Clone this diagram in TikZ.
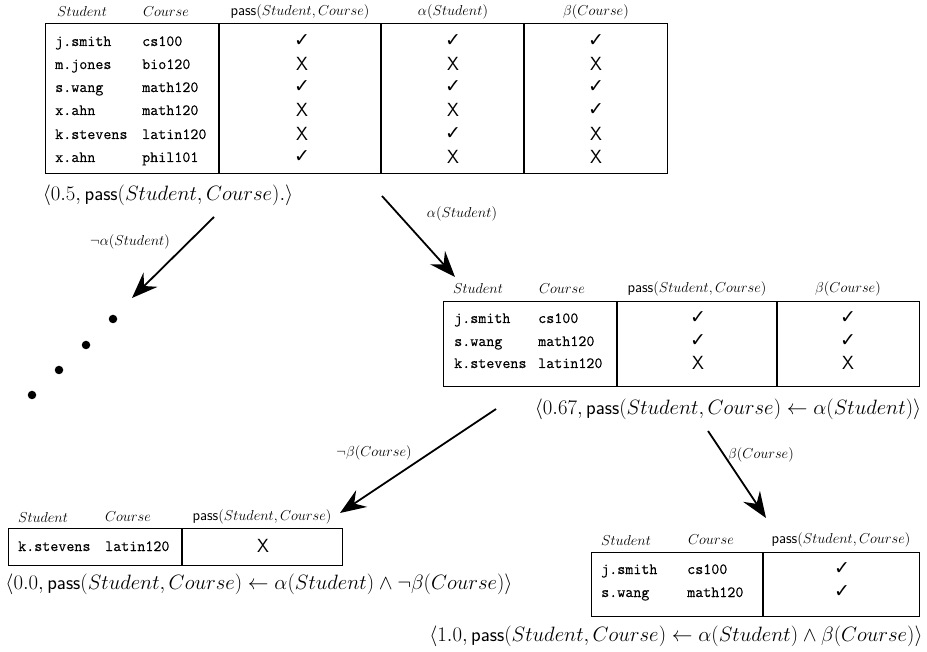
\documentclass[tikz,border=0pt]{standalone}
\usepackage{fontspec}
\setmonofont{Latin Modern Mono}[FakeBold=0.3]
\newfontfamily\symbolfont{DejaVu Sans}
\usetikzlibrary{arrows.meta}
\newcommand\yesmark{{\fontsize{19}{22}\symbolfont ✓}}
\newcommand\nomark{{\fontsize{19}{22}\sffamily X}}
\newcommand\passsc{\mathsf{pass}(Student,Course)}

\begin{document}
\begin{tikzpicture}[x=1pt,y=-1pt,
  tbl/.style={draw, line width=1.2pt, inner sep=0, anchor=north west},
  hdr/.style={font=\fontsize{15}{18}\selectfont, inner sep=0},
  cell/.style={font=\fontsize{15.6}{18}\ttfamily\selectfont, anchor=base west, inner sep=0},
  mk/.style={inner sep=0},
  lbl/.style={font=\fontsize{20}{24}\selectfont, inner sep=0},
  elbl/.style={font=\fontsize{14.5}{17}\selectfont, inner sep=0},
  arr/.style={line width=1.8pt, -{Stealth[length=26pt,width=20pt,inset=9pt]}},
  dot/.style={circle, fill, inner sep=0, minimum size=8.5pt}]
\useasboundingbox (0,0) rectangle (927,652);

% ---------- root table ----------
\node[tbl, minimum width=622pt, minimum height=150pt] (T1) at (45,23) {};
\foreach \x in {219,381,524} \draw[line width=1.2pt] (T1.north -| \x,0) -- (T1.south -| \x,0);
\node[hdr] (h1s) at (82,12) {$Student$};
\node[hdr] (h1c) at (166,12) {$Course$};
\node[hdr] (h1p) at (300,12) {$\passsc$};
\node[hdr] (h1a) at (453,12) {$\alpha(Student)$};
\node[hdr] (h1b) at (596,12) {$\beta(Course)$};
\foreach \y/\s/\c/\p/\a/\b [count=\i] in {
  41/j.smith/cs100/\yesmark/\yesmark/\yesmark,
  64/m.jones/bio120/\nomark/\nomark/\nomark,
  87/s.wang/math120/\yesmark/\yesmark/\yesmark,
  110/x.ahn/math120/\nomark/\nomark/\yesmark,
  134/k.stevens/latin120/\nomark/\yesmark/\nomark,
  157/x.ahn/phil101/\yesmark/\nomark/\nomark} {
  \node[cell] (r1s\i) at (55,\y+5) {\s};
  \node[cell] (r1c\i) at (142,\y+5) {\c};
  \node[mk] (r1p\i) at (302,\y) {\p};
  \node[mk] (r1a\i) at (453,\y) {\a};
  \node[mk] (r1b\i) at (596,\y) {\b};
}
\node[lbl] (L1) at (168,195) {$\langle 0.5, \passsc.\rangle$};

% ---------- alpha(Student) branch ----------
\node[tbl, minimum width=476pt, minimum height=85pt] (T2) at (443,301) {};
\foreach \x in {617,777} \draw[line width=1.2pt] (T2.north -| \x,0) -- (T2.south -| \x,0);
\node[hdr] (h2s) at (478,289) {$Student$};
\node[hdr] (h2c) at (562,289) {$Course$};
\node[hdr] (h2p) at (697,289) {$\passsc$};
\node[hdr] (h2b) at (848,289) {$\beta(Course)$};
\foreach \y/\s/\c/\p/\b [count=\i] in {
  318/j.smith/cs100/\yesmark/\yesmark,
  341/s.wang/math120/\yesmark/\yesmark,
  363/k.stevens/latin120/\nomark/\nomark} {
  \node[cell] (r2s\i) at (454,\y+5) {\s};
  \node[cell] (r2c\i) at (538,\y+5) {\c};
  \node[mk] (r2p\i) at (698,\y) {\p};
  \node[mk] (r2b\i) at (848,\y) {\b};
}
\node[lbl] (L2) at (728,409) {$\langle 0.67, \passsc \leftarrow \alpha(Student)\rangle$};

% ---------- not beta(Course) branch ----------
\node[tbl, minimum width=334pt, minimum height=37pt] (T3) at (8,528) {};
\draw[line width=1.2pt] (T3.north -| 182,0) -- (T3.south -| 182,0);
\node[hdr] (h3s) at (43,517) {$Student$};
\node[hdr] (h3c) at (128,517) {$Course$};
\node[hdr] (h3p) at (262,517) {$\passsc$};
\node[cell] (r3s1) at (18,551) {k.stevens};
\node[cell] (r3c1) at (105,551) {latin120};
\node[mk] (r3p1) at (263,546) {\nomark};
\node[lbl] (L3) at (259,584) {$\langle 0.0, \passsc \leftarrow \alpha(Student)\wedge\neg\beta(Course)\rangle$};

% ---------- beta(Course) branch ----------
\node[tbl, minimum width=328pt, minimum height=64pt] (T4) at (591,552) {};
\draw[line width=1.2pt] (T4.north -| 763,0) -- (T4.south -| 763,0);
\node[hdr] (h4s) at (626,540) {$Student$};
\node[hdr] (h4c) at (711,540) {$Course$};
\node[hdr] (h4p) at (841,540) {$\passsc$};
\node[cell] (r4s1) at (601,574) {j.smith};
\node[cell] (r4c1) at (687,574) {cs100};
\node[mk] (r4p1) at (842,569) {\yesmark};
\node[cell] (r4s2) at (601,597) {s.wang};
\node[cell] (r4c2) at (687,597) {math120};
\node[mk] (r4p2) at (842,592) {\yesmark};
\node[lbl] (L4) at (676,636) {$\langle 1.0, \passsc \leftarrow \alpha(Student)\wedge\beta(Course)\rangle$};

% ---------- not alpha(Student): elided subtree ----------
\node[dot] (d1) at (113,319) {};
\node[dot] (d2) at (86,345) {};
\node[dot] (d3) at (59,370) {};
\node[dot] (d4) at (32,395) {};

% ---------- branch arrows ----------
\coordinate (a1s) at (214,217); \coordinate (a1e) at (132,298);
\coordinate (a2s) at (382,196); \coordinate (a2e) at (455,277);
\coordinate (a3s) at (496,409); \coordinate (a3e) at (340,513);
\coordinate (a4s) at (708,431); \coordinate (a4e) at (766,518);
\draw[arr] (a1s) -- (a1e);
\draw[arr] (a2s) -- (a2e);
\draw[arr] (a3s) -- (a3e);
\draw[arr] (a4s) -- (a4e);
\node[elbl] (e1) at (130,242) {$\neg\alpha(Student)$};
\node[elbl] (e2) at (462,214) {$\alpha(Student)$};
\node[elbl] (e3) at (374,453) {$\neg\beta(Course)$};
\node[elbl] (e4) at (761,455) {$\beta(Course)$};
\end{tikzpicture}
\end{document}
